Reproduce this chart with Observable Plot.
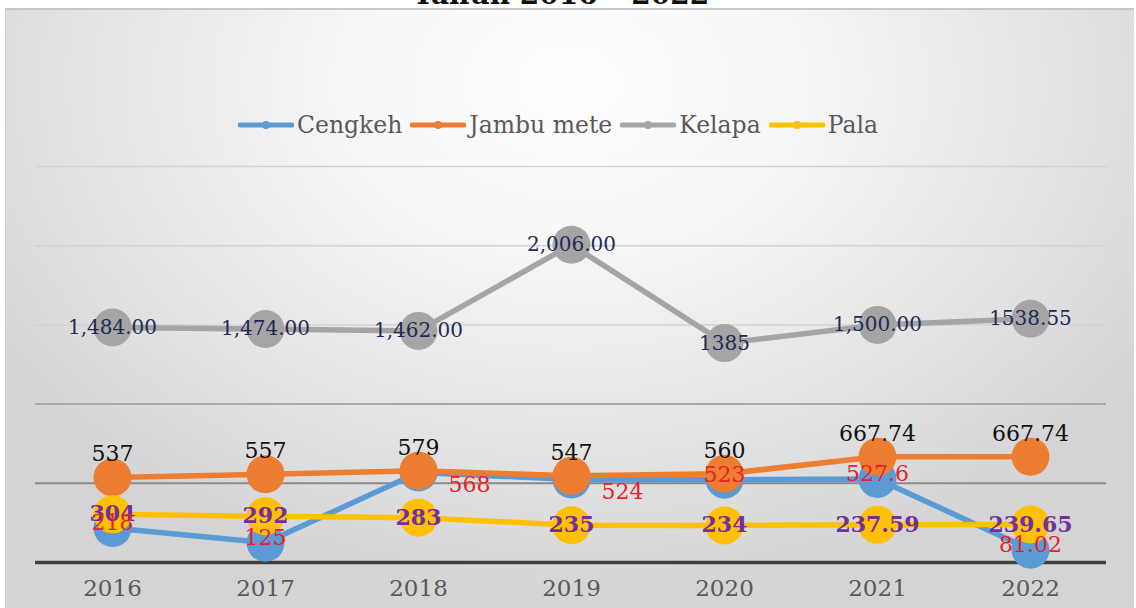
<!DOCTYPE html>
<html>
<head>
<meta charset="utf-8">
<script src="https://cdn.jsdelivr.net/npm/d3@7"></script>
<script src="https://cdn.jsdelivr.net/npm/@observablehq/plot@0.6"></script>
<style>
  html, body { margin: 0; padding: 0; background: #ffffff; }
  #wrap { position: relative; width: 1136px; height: 608px; overflow: hidden; background: #ffffff; }
  #bg { position: absolute; left: 5px; top: 8px; width: 1128px; height: 610px;
        border-top: 2px solid #c8c8c8; border-left: 1px solid #d0d0d0;
        background: radial-gradient(ellipse 62% 85% at 50% 12%, #ffffff 0%, #f7f7f7 30%, #e4e4e4 70%, #d4d4d4 100%); }
  #title { position: absolute; left: 0; width: 1122px; top: -19px; text-align: center;
           font-family: "DejaVu Serif", serif; font-weight: bold; font-size: 28px; line-height: 28px; color: #111; }
  #legend { position: absolute; top: 111px; left: 0; width: 1124px; display: flex; justify-content: center;
            font-family: "DejaVu Serif", serif; font-size: 23.5px; color: #595959; align-items: center; }
  #legend .item { display: flex; align-items: center; margin: 0 8px 0 0; }
  #legend svg { display: block; margin-right: 3px; }
  #chart { position: absolute; left: 0; top: 0; }
</style>
</head>
<body>
<div id="wrap">
  <div id="bg"></div>
  <div id="title">Tahun 2016 – 2022</div>
  <div id="legend"></div>
  <div id="chart"></div>
</div>
<script>
// ---- data ----
const years = ["2016", "2017", "2018", "2019", "2020", "2021", "2022"];
const seriesNames = ["Cengkeh", "Jambu mete", "Kelapa", "Pala"];
const cengkeh = [218, 125, 568, 524, 523, 527.6, 81.02];
const jambuMete = [537, 557, 579, 547, 560, 667.74, 667.74];
const kelapa = [1484, 1474, 1462, 2006, 1385, 1500, 1538.55];
const kelapaLabels = ["1,484.00", "1,474.00", "1,462.00", "2,006.00", "1385", "1,500.00", "1538.55"];
const pala = [304, 292, 283, 235, 234, 237.59, 239.65];
const yTicks = [0, 500, 1000, 1500, 2000, 2500];

// ---- styling ----
const colors = {"Cengkeh": "#5b9bd5", "Jambu mete": "#ed7d31", "Kelapa": "#a5a5a5", "Pala": "#ffc000"};
const cengkehLabelPlace = ["c", "c", "r", "r", "c", "c", "c"];

const values = {"Cengkeh": cengkeh, "Jambu mete": jambuMete, "Kelapa": kelapa, "Pala": pala};
const table = seriesNames.map(s => years.map((y, i) => ({
  series: s, year: y, value: values[s][i],
  label: s === "Kelapa" ? kelapaLabels[i] : String(values[s][i]),
  place: s === "Cengkeh" ? cengkehLabelPlace[i] : "c"
})));

const seriesMarks = table.flatMap((rows, k) => {
  const c = colors[seriesNames[k]];
  return [
    Plot.line(rows, {x: "year", y: "value", stroke: c, strokeWidth: 5.5, strokeLinecap: "round"}),
    Plot.dot(rows, {x: "year", y: "value", r: 19, fill: c, stroke: "none"})
  ];
});

const [cRows, jRows, kRows, pRows] = table;

const chart = Plot.plot({
  width: 1136,
  height: 608,
  marginLeft: 35,
  marginRight: 30,
  marginTop: 166,
  marginBottom: 46,
  style: {fontFamily: "DejaVu Serif, serif", background: "transparent", overflow: "visible"},
  x: {type: "point", domain: years, padding: 0.5, label: null},
  y: {domain: [0, 2500], axis: null},
  marks: [
    Plot.ruleY(yTicks.filter(t => t >= 1500), {stroke: "#d2d2d2", strokeWidth: 1.5}),
    Plot.ruleY([1000], {stroke: "#a8a8a8", strokeWidth: 2}),
    Plot.ruleY([500], {stroke: "#8a8a8a", strokeWidth: 2}),
    Plot.ruleY([0], {stroke: "#404040", strokeWidth: 3.5}),
    Plot.axisX({tickSize: 0, tickPadding: 17, fontSize: 23, fill: "#595959", label: null}),
    ...seriesMarks,
    Plot.text(kRows, {x: "year", y: "value", text: "label", fill: "#1f2a55", fontSize: 20}),
    Plot.text(jRows, {x: "year", y: "value", text: "label", fill: "#111111", fontSize: 22, dy: -23}),
    Plot.text(pRows, {x: "year", y: "value", text: "label", fill: "#7030a0", fontSize: 22, fontWeight: "bold"}),
    Plot.text(cRows.filter(d => d.place === "c"), {x: "year", y: "value", text: "label", fill: "#e8202a", fontSize: 22, dy: -5}),
    Plot.text(cRows.filter(d => d.place === "r"), {x: "year", y: "value", text: "label", fill: "#e8202a", fontSize: 22, dx: 51, dy: 12})
  ]
});
document.getElementById("chart").appendChild(chart);

// ---- legend ----
const legend = document.getElementById("legend");
seriesNames.forEach(s => {
  const item = document.createElement("div");
  item.className = "item";
  item.innerHTML = `<svg width="56" height="12"><line x1="2" y1="6" x2="54" y2="6" stroke="${colors[s]}" stroke-width="5" stroke-linecap="round"/><circle cx="28" cy="6" r="4" fill="${colors[s]}"/></svg><span>${s}</span>`;
  legend.appendChild(item);
});
</script>
</body>
</html>
